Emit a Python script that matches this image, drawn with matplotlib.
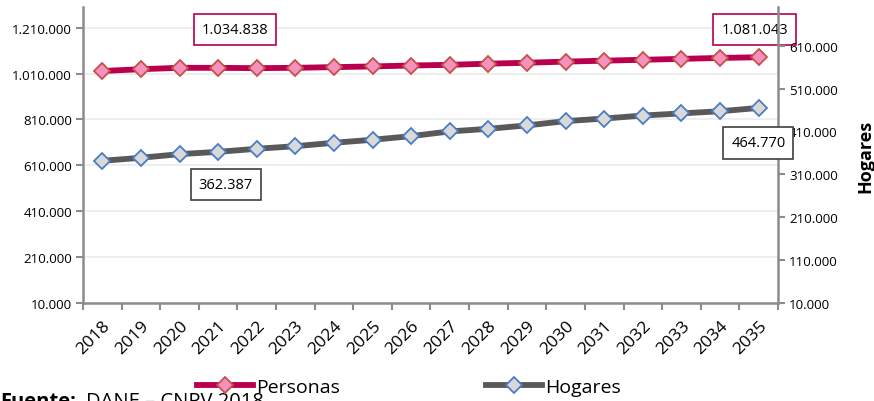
import numpy as np
import matplotlib.pyplot as plt
from matplotlib.lines import Line2D
from matplotlib.ticker import FuncFormatter

plt.rcParams['font.family'] = ['Open Sans', 'DejaVu Sans']

# datos
years = [str(y) for y in range(2018, 2036)]
personas = [1021000, 1029000, 1035000, 1034838, 1033500, 1035000, 1038000, 1041000, 1045000,
            1048000, 1053000, 1057000, 1062000, 1066000, 1070000, 1074000, 1078000, 1081043]
hogares = [341500, 348500, 357000, 362387, 369500, 375500, 383500, 390500, 399000,
           410000, 416000, 424000, 434000, 440000, 447000, 452000, 457000, 464770]
left_ticks = [10000, 210000, 410000, 610000, 810000, 1010000, 1210000]
right_ticks = [10000, 110000, 210000, 310000, 410000, 510000, 610000]

def miles(v, pos=None):
    return f'{int(v):,}'.replace(',', '.')

c_per = '#B8004E'
c_hog = '#595959'
ax_col = '#8C8C8C'

fig = plt.figure(figsize=(8.74, 4.02), dpi=100)
ax = fig.add_axes([83/874, 1-304/402, (778-83)/874, (304-8)/402])
ax2 = ax.twinx()

x = np.arange(len(years))
ax.plot(x, personas, color=c_per, lw=4.2, marker='D', ms=8.5, mfc='#F392BE',
        mec='#C8504A', mew=1.3, zorder=3)
ax2.plot(x, hogares, color=c_hog, lw=4.2, marker='D', ms=8.5, mfc='#D9D9D9',
         mec='#4A7EC0', mew=1.3, zorder=3)

ax.set_xlim(-0.5, len(years) - 0.5)
ax.set_ylim(10000, 1300000)
ax2.set_ylim(10000, 700000)
ax.set_yticks(left_ticks)
ax2.set_yticks(right_ticks)
ax.yaxis.set_major_formatter(FuncFormatter(miles))
ax2.yaxis.set_major_formatter(FuncFormatter(miles))
ax.grid(axis='y', color='#EBEBEB', lw=1.2)
ax.set_axisbelow(True)

ax.set_xticks(x)
ax.set_xticklabels(years, rotation=45, ha='right', va='top', rotation_mode='anchor',
                   fontsize=12.5)
ax.set_xticks(np.arange(-0.5, len(years)), minor=True)
ax.tick_params(axis='x', which='major', length=0, pad=10)
ax.tick_params(axis='x', which='minor', length=5, width=1.5, color=ax_col)
ax.tick_params(axis='y', length=5, width=1.5, color=ax_col, labelsize=9.6, pad=3)
ax2.tick_params(axis='y', length=5, width=1.5, color=ax_col, labelsize=9.6, pad=3)

for a in (ax, ax2):
    a.spines['top'].set_visible(False)
    for s in ('left', 'right', 'bottom'):
        a.spines[s].set_color(ax_col)
        a.spines[s].set_linewidth(1.8)
ax2.spines['left'].set_visible(False)
ax2.spines['bottom'].set_visible(False)
ax.spines['right'].set_visible(False)

ax2.set_ylabel('Hogares', fontsize=13, fontweight='bold', labelpad=13)

# etiquetas de datos
box_p = dict(boxstyle='square,pad=0.55', fc='white', ec=c_per, lw=1.2)
box_h = dict(boxstyle='square,pad=0.55', fc='white', ec='#404040', lw=1.2)
ax.annotate(miles(personas[3]), (3, personas[3]), xytext=(3.44, 1204000), textcoords='data',
            fontsize=10.5, ha='center', va='center', bbox=box_p)
ax.annotate(miles(personas[-1]), (17, personas[-1]), xytext=(16.9, 1204000), textcoords='data',
            fontsize=10.5, ha='center', va='center', bbox=box_p)
ax2.annotate(miles(hogares[3]), (3, hogares[3]), xytext=(3.2, 287000), textcoords='data',
             fontsize=10.5, ha='center', va='center', bbox=box_h)
ax2.annotate(miles(hogares[-1]), (17, hogares[-1]), xytext=(16.99, 383000), textcoords='data',
             fontsize=10.5, ha='center', va='center', bbox=box_h)

# leyenda
h1 = Line2D([], [], color=c_per, lw=4.2, marker='D', ms=8.5, mfc='#F392BE', mec='#C8504A', mew=1.3)
h2 = Line2D([], [], color=c_hog, lw=4.2, marker='D', ms=8.5, mfc='#D9D9D9', mec='#4A7EC0', mew=1.3)
fig.legend([h1, h2], ['Personas', 'Hogares'], loc='center left',
           bbox_to_anchor=(197/874, 1-388/402), ncol=2, frameon=False, fontsize=14,
           handlelength=2.9, handletextpad=0.15, columnspacing=7.5, borderpad=0,
           borderaxespad=0)

fig.text(0.0, 1-392/402, 'Fuente:', fontsize=14.5, fontweight='bold', va='top')
fig.text(86/874, 1-392/402, 'DANE – CNPV 2018', fontsize=14.5, va='top')

fig.savefig('out.png', dpi=100)
